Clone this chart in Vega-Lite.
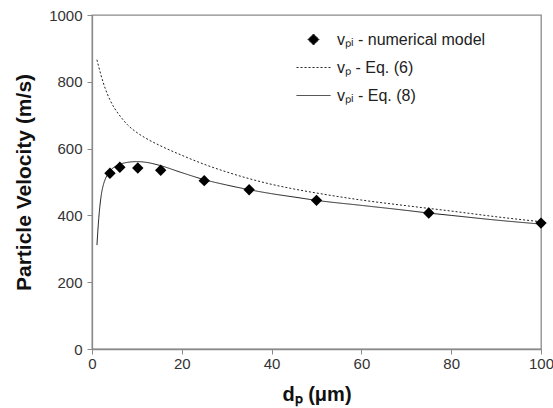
{
  "$schema": "https://vega.github.io/schema/vega-lite/v6.json",
  "width": 449,
  "height": 334,
  "autosize": {"type": "none"},
  "padding": {"left": 92, "top": 15, "right": 12, "bottom": 59},
  "background": "white",
  "config": {
    "font": "Liberation Sans",
    "view": {"stroke": "#8a8a8a", "strokeWidth": 1.3},
    "axis": {
      "grid": false,
      "domainColor": "#8a8a8a",
      "domainWidth": 1.3,
      "tickColor": "#8a8a8a",
      "tickSize": 5,
      "labelFont": "Liberation Sans",
      "labelFontSize": 15,
      "labelColor": "#333333",
      "titleFont": "Liberation Sans",
      "titleFontSize": 20,
      "titleFontWeight": "bold",
      "titleColor": "#111111"
    }
  },
  "datasets": {
    "curves": [
      {"series": "vₚ - Eq. (6)", "d": 1.1, "v": 866},
      {"series": "vₚ - Eq. (6)", "d": 1.5, "v": 845},
      {"series": "vₚ - Eq. (6)", "d": 2, "v": 820},
      {"series": "vₚ - Eq. (6)", "d": 3, "v": 778},
      {"series": "vₚ - Eq. (6)", "d": 4, "v": 746},
      {"series": "vₚ - Eq. (6)", "d": 5, "v": 721},
      {"series": "vₚ - Eq. (6)", "d": 6, "v": 702},
      {"series": "vₚ - Eq. (6)", "d": 8, "v": 670},
      {"series": "vₚ - Eq. (6)", "d": 10, "v": 648},
      {"series": "vₚ - Eq. (6)", "d": 12, "v": 631},
      {"series": "vₚ - Eq. (6)", "d": 15, "v": 610},
      {"series": "vₚ - Eq. (6)", "d": 20, "v": 580},
      {"series": "vₚ - Eq. (6)", "d": 25, "v": 553},
      {"series": "vₚ - Eq. (6)", "d": 30, "v": 530},
      {"series": "vₚ - Eq. (6)", "d": 35, "v": 510},
      {"series": "vₚ - Eq. (6)", "d": 40, "v": 493},
      {"series": "vₚ - Eq. (6)", "d": 45, "v": 479},
      {"series": "vₚ - Eq. (6)", "d": 50, "v": 467},
      {"series": "vₚ - Eq. (6)", "d": 60, "v": 446},
      {"series": "vₚ - Eq. (6)", "d": 70, "v": 429},
      {"series": "vₚ - Eq. (6)", "d": 75, "v": 421},
      {"series": "vₚ - Eq. (6)", "d": 80, "v": 413},
      {"series": "vₚ - Eq. (6)", "d": 90, "v": 396},
      {"series": "vₚ - Eq. (6)", "d": 100, "v": 381},
      {"series": "vₚᵢ - Eq. (8)", "d": 1.1, "v": 311},
      {"series": "vₚᵢ - Eq. (8)", "d": 1.5, "v": 390},
      {"series": "vₚᵢ - Eq. (8)", "d": 2, "v": 455},
      {"series": "vₚᵢ - Eq. (8)", "d": 2.5, "v": 490},
      {"series": "vₚᵢ - Eq. (8)", "d": 3, "v": 510},
      {"series": "vₚᵢ - Eq. (8)", "d": 3.5, "v": 523},
      {"series": "vₚᵢ - Eq. (8)", "d": 4, "v": 533},
      {"series": "vₚᵢ - Eq. (8)", "d": 5, "v": 545},
      {"series": "vₚᵢ - Eq. (8)", "d": 6, "v": 552},
      {"series": "vₚᵢ - Eq. (8)", "d": 8, "v": 559},
      {"series": "vₚᵢ - Eq. (8)", "d": 10, "v": 561},
      {"series": "vₚᵢ - Eq. (8)", "d": 12, "v": 559},
      {"series": "vₚᵢ - Eq. (8)", "d": 15, "v": 550},
      {"series": "vₚᵢ - Eq. (8)", "d": 20, "v": 528},
      {"series": "vₚᵢ - Eq. (8)", "d": 25, "v": 507},
      {"series": "vₚᵢ - Eq. (8)", "d": 30, "v": 491},
      {"series": "vₚᵢ - Eq. (8)", "d": 35, "v": 477},
      {"series": "vₚᵢ - Eq. (8)", "d": 40, "v": 465},
      {"series": "vₚᵢ - Eq. (8)", "d": 45, "v": 455},
      {"series": "vₚᵢ - Eq. (8)", "d": 50, "v": 445},
      {"series": "vₚᵢ - Eq. (8)", "d": 60, "v": 430},
      {"series": "vₚᵢ - Eq. (8)", "d": 70, "v": 415},
      {"series": "vₚᵢ - Eq. (8)", "d": 75, "v": 407},
      {"series": "vₚᵢ - Eq. (8)", "d": 80, "v": 400},
      {"series": "vₚᵢ - Eq. (8)", "d": 90, "v": 386},
      {"series": "vₚᵢ - Eq. (8)", "d": 100, "v": 374}
    ],
    "pts": [
      {"series": "vₚᵢ - numerical model", "d": 4, "v": 526},
      {"series": "vₚᵢ - numerical model", "d": 6.2, "v": 544},
      {"series": "vₚᵢ - numerical model", "d": 10.2, "v": 542},
      {"series": "vₚᵢ - numerical model", "d": 15.3, "v": 535},
      {"series": "vₚᵢ - numerical model", "d": 25, "v": 504},
      {"series": "vₚᵢ - numerical model", "d": 35, "v": 477},
      {"series": "vₚᵢ - numerical model", "d": 50, "v": 445},
      {"series": "vₚᵢ - numerical model", "d": 75, "v": 407},
      {"series": "vₚᵢ - numerical model", "d": 100, "v": 377}
    ]
  },
  "layer": [
    {
      "data": {"name": "curves"},
      "mark": {"type": "line", "strokeWidth": 1, "color": "#222222", "interpolate": "monotone", "clip": true},
      "encoding": {
        "x": {
          "field": "d", "type": "quantitative",
          "scale": {"domain": [0, 100], "nice": false},
          "axis": {"title": "dₚ (μm)", "values": [0, 20, 40, 60, 80, 100], "format": "d", "labelFlush": false, "labelPadding": 2, "titlePadding": 13}
        },
        "y": {
          "field": "v", "type": "quantitative",
          "scale": {"domain": [0, 1000], "nice": false},
          "axis": {"title": "Particle Velocity  (m/s)", "titleFontSize": 21, "values": [0, 200, 400, 600, 800, 1000], "format": "d", "labelPadding": 5, "titlePadding": 14}
        },
        "strokeDash": {
          "field": "series", "type": "nominal",
          "scale": {
            "domain": ["vₚᵢ - numerical model", "vₚ - Eq. (6)", "vₚᵢ - Eq. (8)"],
            "range": [[1, 0], [2, 2], [1, 0]]
          },
          "legend": {
            "title": null,
            "orient": "none",
            "legendX": 204,
            "legendY": 7,
            "padding": 0,
            "rowPadding": 2,
            "labelFontSize": 16,
            "labelFont": "Liberation Sans",
            "labelColor": "#222222",
            "labelOffset": 6,
            "symbolSize": 1150,
            "symbolStrokeWidth": 1,
            "symbolStrokeColor": "#222222",
            "encode": {
              "symbols": {
                "update": {
                  "shape": {"signal": "datum.index === 0 ? 'diamond' : 'stroke'"},
                  "size": {"signal": "datum.index === 0 ? 120 : 1150"},
                  "fill": {"signal": "datum.index === 0 ? '#000000' : 'transparent'"},
                  "stroke": {"value": "#222222"},
                  "strokeWidth": {"value": 1},
                  "opacity": {"value": 1}
                }
              }
            }
          }
        }
      }
    },
    {
      "data": {"name": "pts"},
      "mark": {"type": "point", "shape": "diamond", "filled": true, "color": "#000000", "size": 130, "opacity": 1},
      "encoding": {
        "x": {"field": "d", "type": "quantitative"},
        "y": {"field": "v", "type": "quantitative"}
      }
    }
  ]
}
